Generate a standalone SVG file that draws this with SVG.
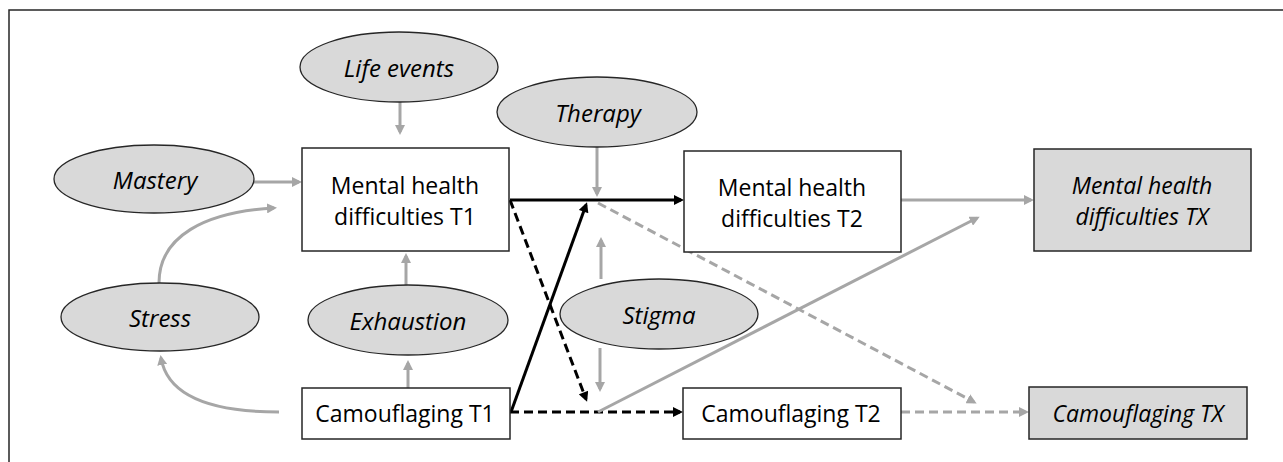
<svg xmlns="http://www.w3.org/2000/svg" width="1283" height="462" viewBox="0 0 1283 462">
<style>
.bg{fill:#ffffff}
.box{fill:#ffffff;stroke:#262626;stroke-width:1.5}
.gbox{fill:#d9d9d9;stroke:#262626;stroke-width:1.5}
.ell{fill:#d9d9d9;stroke:#262626;stroke-width:1.3}
.t{font-family:"Open Sans","Liberation Sans",sans-serif;font-size:23px;fill:#000;text-anchor:middle}
.i{font-style:italic}
.e{font-size:24px}
.g{fill:none;stroke:#a6a6a6;stroke-width:3}
.k{fill:none;stroke:#000;stroke-width:3}
.d{stroke-dasharray:9 5}
</style>
<defs>
<marker id="ag" viewBox="0 0 10 10" refX="7" refY="5" markerWidth="10" markerHeight="10" markerUnits="userSpaceOnUse" orient="auto"><path d="M0,0 L10,5 L0,10 z" fill="#a6a6a6"/></marker>
<marker id="ak" viewBox="0 0 10 10" refX="7" refY="5" markerWidth="11" markerHeight="10" markerUnits="userSpaceOnUse" orient="auto"><path d="M0,0 L10,5 L0,10 z" fill="#000"/></marker>
</defs>
<rect class="bg" x="0" y="0" width="1283" height="462"/>
<path d="M9,462 V10 H1283" fill="none" stroke="#262626" stroke-width="1.5"/>

<g id="connectors">
<path class="g" d="M400,102 V132" marker-end="url(#ag)"/>
<path class="g" d="M254,182 H299" marker-end="url(#ag)"/>
<path class="g" d="M159,283 C159,236 205,212 274,208" marker-end="url(#ag)"/>
<path class="g" d="M279,412 C215,412 168,398 161,358" marker-end="url(#ag)"/>
<path class="g" d="M408,388 V363" marker-end="url(#ag)"/>
<path class="g" d="M406,285 V256" marker-end="url(#ag)"/>
<path class="g" d="M597,147 V194" marker-end="url(#ag)"/>
<path class="k" d="M510,200 H681" marker-end="url(#ak)"/>
<path class="k" d="M511,412 L586,205" marker-end="url(#ak)"/>
<path class="k d" d="M510,200 L586,399" marker-end="url(#ak)"/>
<path class="k d" d="M510,412 H680" marker-end="url(#ak)"/>
<path class="g" d="M601,279 V240" marker-end="url(#ag)"/>
<path class="g" d="M600,348 V389" marker-end="url(#ag)"/>
<path class="g d" d="M598,203 L974,402" marker-end="url(#ag)"/>
<path class="g" d="M598,412 L977,218" marker-end="url(#ag)"/>
<path class="g" d="M901,200 H1031" marker-end="url(#ag)"/>
<path class="g d" d="M901,412 H1026" marker-end="url(#ag)"/>
</g>

<g id="life-events"><ellipse class="ell" cx="399" cy="67" rx="99" ry="35"/><text class="t i e" x="399" y="77">Life events</text></g>
<g id="mastery"><ellipse class="ell" cx="154" cy="179" rx="100" ry="34"/><text class="t i e" x="155" y="189">Mastery</text></g>
<g id="therapy"><ellipse class="ell" cx="597" cy="112" rx="100" ry="35"/><text class="t i e" x="598" y="122">Therapy</text></g>
<g id="stress"><ellipse class="ell" cx="160" cy="317" rx="99" ry="34"/><text class="t i e" x="160" y="327">Stress</text></g>
<g id="exhaustion"><ellipse class="ell" cx="408" cy="320" rx="100" ry="35"/><text class="t i e" x="408" y="330">Exhaustion</text></g>
<g id="stigma"><ellipse class="ell" cx="659" cy="314" rx="99" ry="35"/><text class="t i e" x="659" y="324">Stigma</text></g>

<g id="mh-t1"><rect class="box" x="302" y="148" width="207" height="103"/><text class="t" x="405" y="194">Mental health</text><text class="t" x="405" y="225">difficulties T1</text></g>
<g id="mh-t2"><rect class="box" x="684" y="151" width="217" height="101"/><text class="t" x="792" y="196">Mental health</text><text class="t" x="792" y="227">difficulties T2</text></g>
<g id="mh-tx"><rect class="gbox" x="1034" y="149" width="217" height="102"/><text class="t i" x="1142" y="194">Mental health</text><text class="t i" x="1142" y="225">difficulties TX</text></g>
<g id="cam-t1"><rect class="box" x="302" y="388" width="208" height="51"/><text class="t" x="405" y="422">Camouflaging T1</text></g>
<g id="cam-t2"><rect class="box" x="683" y="388" width="218" height="51"/><text class="t" x="791" y="422">Camouflaging T2</text></g>
<g id="cam-tx"><rect class="gbox" x="1029" y="387" width="218" height="52"/><text class="t i" x="1138" y="422">Camouflaging TX</text></g>
</svg>
